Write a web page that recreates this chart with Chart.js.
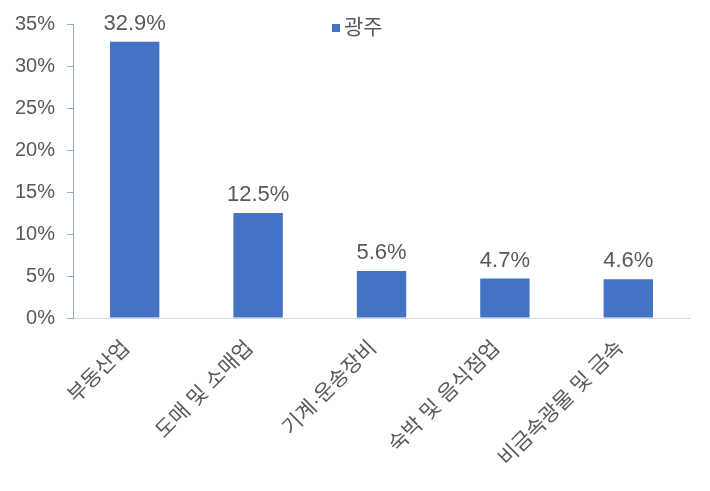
<!DOCTYPE html>
<html><head><meta charset="utf-8">
<script src="https://cdn.jsdelivr.net/npm/chart.js@4"></script>
<style>html,body{margin:0;padding:0;background:#fff}#wrap{width:710px;height:491px}</style>
</head><body><div id="wrap"><canvas id="c" width="710" height="491"></canvas></div>
<script>
const categories = ['부동산업', '도매 및 소매업', '기계·운송장비', '숙박 및 음식점업', '비금속광물 및 금속'];
const seriesName = '광주';
const values = [32.9, 12.5, 5.6, 4.7, 4.6];
const yTicks = [0, 5, 10, 15, 20, 25, 30, 35];

const FONT = '"Liberation Sans", "Noto Sans CJK KR", sans-serif';
const GRAY = '#595959';
const BLUE = '#4472C4';

const labelPlugin = {
  id: 'labels',
  afterDatasetsDraw(chart) {
    const ctx = chart.ctx;
    const meta = chart.getDatasetMeta(0);
    ctx.save();
    ctx.font = '22px ' + FONT;
    ctx.fillStyle = GRAY;
    ctx.textAlign = 'center';
    ctx.textBaseline = 'alphabetic';
    meta.data.forEach((bar, i) => {
      ctx.fillText(values[i].toFixed(1) + '%', bar.x, bar.y - 12);
    });
    // legend
    const lx = 332, ly = 28;
    ctx.fillStyle = BLUE;
    ctx.fillRect(lx, ly - 4, 8, 8);
    ctx.fillStyle = GRAY;
    ctx.font = '21px ' + FONT;
    ctx.textAlign = 'left';
    ctx.textBaseline = 'middle';
    ctx.fillText(seriesName, lx + 12, ly);
    ctx.restore();
  }
};

new Chart(document.getElementById('c'), {
  type: 'bar',
  data: {
    labels: categories,
    datasets: [{
      label: seriesName,
      data: values,
      backgroundColor: BLUE,
      categoryPercentage: 0.8,
      barPercentage: 0.5
    }]
  },
  options: {
    responsive: false,
    animation: false,
    layout: { padding: { top: 21, right: 20, left: 0, bottom: 0 } },
    plugins: { legend: { display: false }, tooltip: { enabled: false } },
    scales: {
      x: {
        grid: { drawOnChartArea: false, drawTicks: false },
        border: { display: true, color: '#D9D9D9', width: 1 },
        ticks: { color: GRAY, font: { size: 21, family: FONT }, minRotation: 45, maxRotation: 45, autoSkip: false, padding: 18, labelOffset: -8 },
        afterFit(scale) { scale.height = 173; }
      },
      y: {
        min: 0, max: 35,
        afterBuildTicks(scale) { scale.ticks = yTicks.map(v => ({ value: v })); },
        grid: { drawOnChartArea: false, drawTicks: true, tickLength: 6, color: '#8FAADC' },
        border: { display: true, color: '#8FAADC', width: 1 },
        ticks: { color: GRAY, font: { size: 20, family: FONT }, padding: 12, callback: v => v + '%' },
        afterFit(scale) { scale.width = 73; }
      }
    }
  },
  plugins: [labelPlugin]
});
</script>
</body></html>
